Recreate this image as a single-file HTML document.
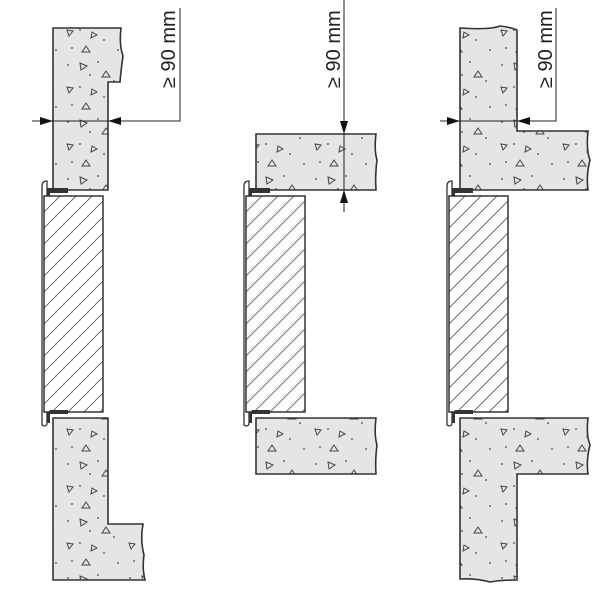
<!DOCTYPE html>
<html><head><meta charset="utf-8">
<style>html,body{margin:0;padding:0;background:#fff}svg{display:block}</style>
</head><body>
<svg width="600" height="600" viewBox="0 0 600 600" xmlns="http://www.w3.org/2000/svg">
<defs>
<pattern id="c" width="62" height="57" patternUnits="userSpaceOnUse">
<rect width="62" height="57" fill="#e4e5e6"/>
<g fill="#444">
<circle cx="6" cy="8" r="0.9"/><circle cx="36" cy="5" r="0.9"/><circle cx="52" cy="24" r="0.9"/>
<circle cx="18" cy="30" r="0.9"/><circle cx="42" cy="40" r="0.9"/><circle cx="10" cy="48" r="0.9"/>
<circle cx="28" cy="18" r="0.9"/><circle cx="56" cy="50" r="0.9"/>
</g>
<g fill="none" stroke="#444" stroke-width="1">
<path d="M18 6 l7 3 l-6 4 z"/><path d="M44 14 l4 6 h-8 z"/><path d="M5 30 l6 1 l-4 5 z"/>
<path d="M30 32 l5 3 l-6 3 z"/><path d="M24 46 l4 6 h-8 z"/>
</g>
</pattern>
<pattern id="h" width="16" height="16" patternUnits="userSpaceOnUse">
<rect width="16" height="16" fill="#fff"/>
<path d="M0 16 L16 0 M-4 4 L4 -4 M12 20 L20 12" stroke="#555" stroke-width="0.8"/>
</pattern>
<g id="fr">
<path d="M42 425 V186 Q42 181 47 181 V423 Q47 426 44 426 Z" fill="#fff" stroke="#333" stroke-width="1.3"/>
<path d="M47 188 H68 V193 H50 V423 H47 Z" fill="#333"/>
<rect x="44" y="196" width="59" height="216" fill="url(#h)" stroke="#333" stroke-width="1.5"/>
<path d="M47 414 H68 V410 H50 Z" fill="#333"/>
</g>
</defs>
<g stroke="#333" stroke-width="1.6" fill="url(#c)">
<path d="M53 28 H121 Q119 45 123 56 Q121 70 120 82 H108 V190 H53 Z"/>
<path d="M53 418 H108 V524 H143 Q140 540 144 555 Q142 568 145 580 H53 Z"/>
<path d="M256 134 H376 Q374 150 377 160 Q375 175 376 190 H256 Z"/>
<path d="M256 418 H376 Q374 435 377 445 Q375 460 376 474 H256 Z"/>
<path d="M460 28 Q490 30 500 26 Q510 27 517 30 V131 H588 Q586 150 590 160 Q586 175 588 190 H460 Z"/>
<path d="M460 418 H588 Q586 435 590 445 Q586 460 588 474 H517 V580 Q500 580 490 582 Q475 578 460 579 Z"/>
</g>
<use href="#fr"/>
<use href="#fr" transform="translate(202,0)"/>
<use href="#fr" transform="translate(405,0)"/>
<g stroke="#222" stroke-width="1" fill="none">
<path d="M180 8 V121 H32"/>
<path d="M344 0 V212"/>
<path d="M556 8 V121 H440"/>
</g>
<g fill="#111">
<path d="M53 121 l-13 -4 v8 z"/><path d="M108 121 l13 -4 v8 z"/>
<path d="M344 134 l-4 -13 h8 z"/><path d="M344 190 l-4 13 h8 z"/>
<path d="M460 121 l-13 -4 v8 z"/><path d="M517 121 l13 -4 v8 z"/>
</g>
<g font-family="Liberation Sans, sans-serif" font-size="20" fill="#222">
<text transform="translate(175,88) rotate(-90)">≥ 90 mm</text>
<text transform="translate(340,88) rotate(-90)">≥ 90 mm</text>
<text transform="translate(552,88) rotate(-90)">≥ 90 mm</text>
</g>
</svg>
</body></html>
